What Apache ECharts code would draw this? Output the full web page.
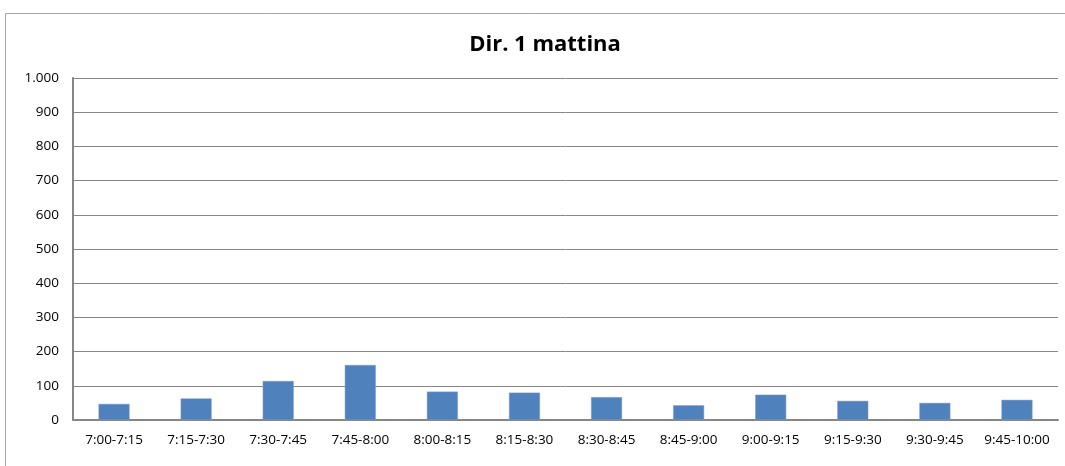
<!DOCTYPE html>
<html>
<head>
<meta charset="utf-8">
<script src="https://cdn.jsdelivr.net/npm/echarts@6/dist/echarts.min.js"></script>
<style>
html,body{margin:0;padding:0;background:#fff;}
#chart{width:1065px;height:466px;}
</style>
</head>
<body>
<div id="chart"></div>
<script>
const titleText = 'Dir. 1 mattina';
const categories = ['7:00-7:15','7:15-7:30','7:30-7:45','7:45-8:00','8:00-8:15','8:15-8:30','8:30-8:45','8:45-9:00','9:00-9:15','9:15-9:30','9:30-9:45','9:45-10:00'];
const values = [47, 63, 114, 161, 83, 80, 67, 43, 74, 56, 50, 59];
const yMin = 0, yMax = 1000, yInterval = 100;

const FONT = '"Open Sans", sans-serif';
const chart = echarts.init(document.getElementById('chart'));
chart.setOption({
  backgroundColor: '#fff',
  animation: false,
  graphic: [{
    type: 'rect',
    shape: {x: 5.5, y: 13.5, width: 1080, height: 480},
    style: {fill: 'none', stroke: '#a6a6a6', lineWidth: 1},
    silent: true
  }],
  title: {
    text: titleText,
    left: 540,
    textAlign: 'center',
    top: 29,
    textStyle: {fontFamily: FONT, fontWeight: 'bold', fontSize: 22, color: '#000'}
  },
  grid: {left: 73, right: 7, top: 78, bottom: 46, containLabel: false},
  xAxis: {
    type: 'category',
    data: categories,
    axisLine: {lineStyle: {color: '#868686', width: 2}},
    axisTick: {show: false},
    axisLabel: {color: '#000', fontSize: 13.5, fontFamily: FONT, margin: 13, interval: 0}
  },
  yAxis: {
    type: 'value',
    min: yMin, max: yMax, interval: yInterval,
    axisLine: {show: true, lineStyle: {color: '#868686', width: 2}},
    axisTick: {show: false},
    splitLine: {lineStyle: {color: '#868686', width: 1}},
    axisLabel: {
      color: '#000', fontSize: 13.5, fontFamily: FONT, margin: 14,
      formatter: v => (v >= 1000 ? String(v).replace(/(\d)(\d{3})$/, '$1.$2') : String(v))
    }
  },
  series: [{
    type: 'bar',
    data: values,
    barWidth: 31,
    itemStyle: {color: '#4F81BD', borderColor: '#7ea0cc', borderWidth: 0.5}
  }]
});
</script>
</body>
</html>
